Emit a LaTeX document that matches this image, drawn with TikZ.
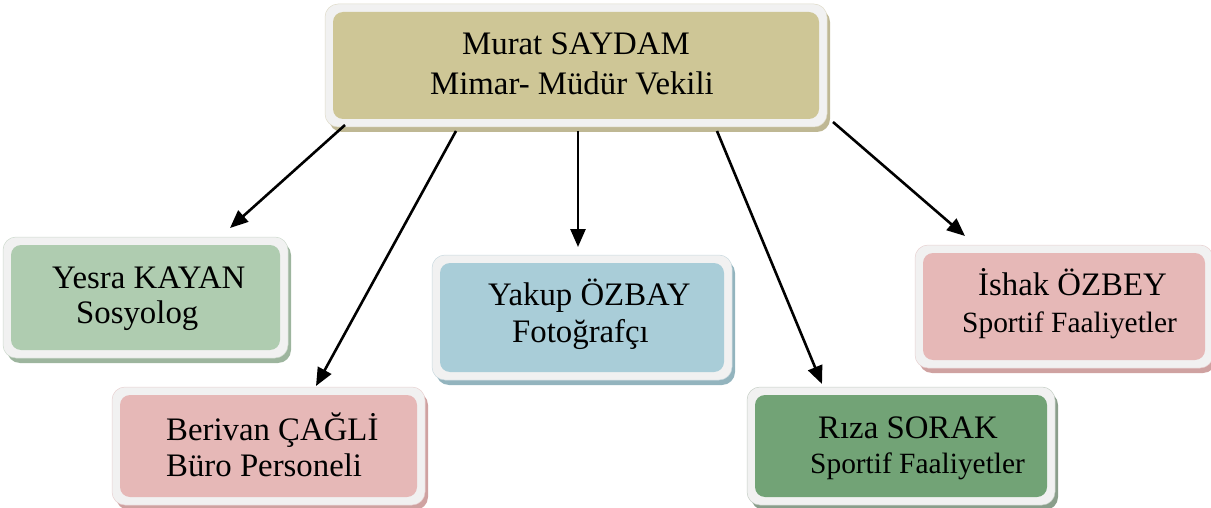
\documentclass[tikz,border=0pt]{standalone}
\usepackage{fontspec}
\setmainfont{Liberation Serif}
\usetikzlibrary{arrows.meta}
\definecolor{boxrim}{HTML}{F1F1F1}
\definecolor{cTop}{HTML}{CEC696}
\definecolor{sTop}{HTML}{BFB894}
\definecolor{cGreenL}{HTML}{AFCCB0}
\definecolor{sGreenL}{HTML}{9DB59E}
\definecolor{cPink}{HTML}{E6B8B7}
\definecolor{sPink}{HTML}{CFA2A1}
\definecolor{cBlue}{HTML}{A9CDD8}
\definecolor{sBlue}{HTML}{93B4BE}
\definecolor{cGreenD}{HTML}{72A376}
\definecolor{sGreenD}{HTML}{8A9E8B}
\newcommand{\orgbox}[7]{%
  \fill[#7, rounded corners=13pt] (#2+4,#3+5) rectangle (#4+3,#5+5);
  \node[draw=#7!50!white, line width=0.5pt, fill=boxrim, rounded corners=13pt,
        minimum width={#4pt-#2pt}, minimum height={#5pt-#3pt}, inner sep=0pt]
        (#1) at ({(#2+#4)/2},{(#3+#5)/2}) {};
  \fill[#6, rounded corners=10pt] (#2+8,#3+8) rectangle (#4-8,#5-8);
}
\tikzset{
  nametext/.style={anchor=base west, inner sep=0pt, font=\fontsize{32.8}{38}\selectfont},
  smalltext/.style={anchor=base west, inner sep=0pt, font=\fontsize{29.4}{35}\selectfont},
  conn/.style={line width=2.6pt, -{Triangle[length=18pt,width=15pt]}}
}
\begin{document}
\begin{tikzpicture}[x=1pt,y=-1pt]
\useasboundingbox (0,0) rectangle (1211,508);
% boxes
\orgbox{top}{325}{4}{827}{127}{cTop}{sTop}
\orgbox{yesra}{3}{237}{288}{358}{cGreenL}{sGreenL}
\orgbox{berivan}{112}{387}{425}{505}{cPink}{sPink}
\orgbox{yakup}{432}{255}{732}{380}{cBlue}{sBlue}
\orgbox{ishak}{915}{245}{1213}{368}{cPink}{sPink}
\orgbox{riza}{747}{387}{1055}{505}{cGreenD}{sGreenD}
% texts
\node[nametext] (t1a) at (462,55) {Murat SAYDAM};
\node[nametext] (t1b) at (430,95) {Mimar- Müdür Vekili};
\node[nametext] (t2a) at (52,288) {Yesra KAYAN};
\node[nametext] (t2b) at (76,323) {Sosyolog};
\node[nametext] (t3a) at (166,440) {Berivan ÇAĞLİ};
\node[nametext] (t3b) at (166,476) {Büro Personeli};
\node[nametext] (t4a) at (488,305) {Yakup ÖZBAY};
\node[nametext] (t4b) at (512,342) {Fotoğrafçı};
\node[nametext] (t5a) at (978,295) {İshak ÖZBEY};
\node[smalltext] (t5b) at (962,332) {Sportif Faaliyetler};
\node[nametext] (t6a) at (818,438) {Rıza SORAK};
\node[smalltext] (t6b) at (810,473) {Sportif Faaliyetler};
% connector end points
\coordinate (s1) at (345,125); \coordinate (e1) at (230,228);
\coordinate (s2) at (456,131); \coordinate (e2) at (316,386);
\coordinate (s3) at (578,131); \coordinate (e3) at (578,247);
\coordinate (s4) at (717,131); \coordinate (e4) at (822,384);
\coordinate (s5) at (833,122); \coordinate (e5) at (965,236);
\draw[conn] (s1) -- (e1);
\draw[conn] (s2) -- (e2);
\draw[conn] (s3) -- (e3);
\draw[conn] (s4) -- (e4);
\draw[conn] (s5) -- (e5);
\end{tikzpicture}
\end{document}
